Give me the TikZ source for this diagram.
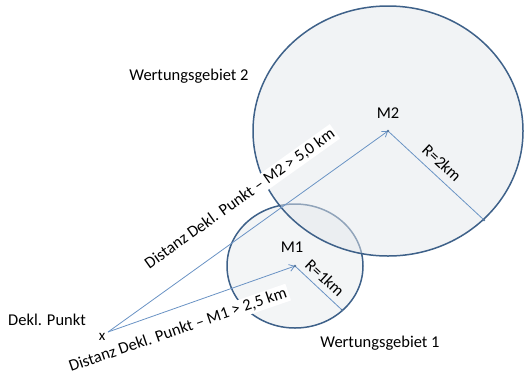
\documentclass[tikz,border=0pt]{standalone}
\usepackage{fontspec}
\setmainfont{Carlito}
\usepackage{tikz}
\usetikzlibrary{positioning}
\usetikzlibrary{arrows.meta}
\definecolor{rim}{HTML}{3E6189}
\definecolor{ray}{HTML}{6A93C4}
\definecolor{area}{HTML}{E4E8EC}

\begin{document}
\begin{tikzpicture}[x=1pt,y=-1pt,every node/.style={inner sep=1,outer sep=0,font=\fontsize{16.5}{19}\selectfont},
    zone/.style={draw=rim,line width=1.5pt,fill=area},
    ray/.style={draw=ray,line width=0.8pt},
    label/.style={fill=white,inner sep=2}]
    \useasboundingbox (0,0) rectangle (524,373);
    \coordinate (M1) at (295,266);
    \coordinate (M2) at (388,131);
    \coordinate (X) at (108,332);
    \coordinate (E1) at (342,310);
    \coordinate (E2) at (484,220);
    % Wertungsgebiete
    \path[zone,fill opacity=0.45] (M1) ellipse [x radius=68pt, y radius=62pt];
    \path[zone,fill opacity=0.5] (M2) ellipse [x radius=135pt, y radius=125pt];
    \node (G2) [anchor=base] at (189,80) {Wertungsgebiet 2};
    \node (G1) [anchor=base] at (380,347) {Wertungsgebiet 1};
    \node (P) [anchor=base] at (47,325) {Dekl. Punkt};
    \node (PX) [anchor=base,font=\fontsize{15}{17}\selectfont] at (102,340) {x};
    \node (N2) [anchor=base] at (388,118) {M2};
    \node (N1) [anchor=base] at (292,252) {M1};
    \node (D2) [label,rotate=35.5] at (240,199) {Distanz Dekl. Punkt -- M2 > 5,0 km};
    \node (D1) [label,rotate=19] at (178,330) {Distanz Dekl. Punkt -- M1 > 2,5 km};
    \node (R2) [rotate=-43] at (442,163) {R=2km};
    \node (R1) [rotate=-43] at (325,278) {R=1km};
    \path[ray]
        (X) edge[-{Straight Barb[length=5pt,width=7pt]}] (M2)
        (X) edge[-{Straight Barb[length=5pt,width=7pt]}] (M1)
        (M2) edge (E2)
        (M1) edge (E1);
    \foreach \p in {M1,M2,E1,E2}
        \fill[ray!80!black] (\p) circle (1.4pt);
\end{tikzpicture}
\end{document}
